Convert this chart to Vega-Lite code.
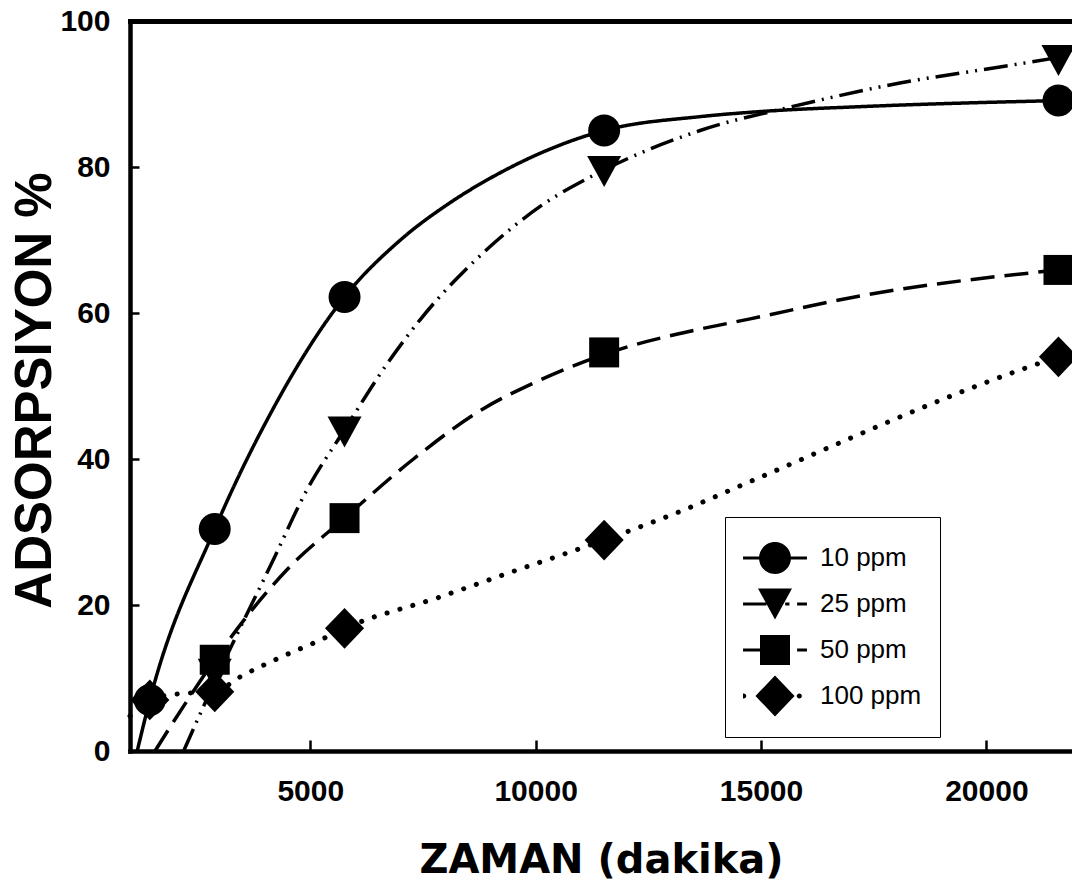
{
  "$schema": "https://vega.github.io/schema/vega-lite/v6.json",
  "width": 942,
  "height": 730,
  "autosize": {"type": "none"},
  "padding": {"left": 130, "top": 21, "right": 0, "bottom": 141},
  "background": "white",
  "config": {"view": {"stroke": null}},
  "datasets": {
    "points": [
      {"seri": "10 ppm", "zaman": 1440, "adsorpsiyon": 7.0},
      {"seri": "10 ppm", "zaman": 2880, "adsorpsiyon": 30.4},
      {"seri": "10 ppm", "zaman": 5760, "adsorpsiyon": 62.2},
      {"seri": "10 ppm", "zaman": 11520, "adsorpsiyon": 85.0},
      {"seri": "10 ppm", "zaman": 21600, "adsorpsiyon": 89.1},
      {"seri": "25 ppm", "zaman": 2880, "adsorpsiyon": 10.5},
      {"seri": "25 ppm", "zaman": 5760, "adsorpsiyon": 43.7},
      {"seri": "25 ppm", "zaman": 11520, "adsorpsiyon": 79.4},
      {"seri": "25 ppm", "zaman": 21600, "adsorpsiyon": 94.6},
      {"seri": "50 ppm", "zaman": 2880, "adsorpsiyon": 12.5},
      {"seri": "50 ppm", "zaman": 5760, "adsorpsiyon": 31.9},
      {"seri": "50 ppm", "zaman": 11520, "adsorpsiyon": 54.6},
      {"seri": "50 ppm", "zaman": 21600, "adsorpsiyon": 65.9},
      {"seri": "100 ppm", "zaman": 1440, "adsorpsiyon": 7.0},
      {"seri": "100 ppm", "zaman": 2880, "adsorpsiyon": 8.1},
      {"seri": "100 ppm", "zaman": 5760, "adsorpsiyon": 16.8},
      {"seri": "100 ppm", "zaman": 11520, "adsorpsiyon": 28.9},
      {"seri": "100 ppm", "zaman": 21600, "adsorpsiyon": 54.0}
    ],
    "curves": [
      {"seri": "10 ppm", "zaman": 1160, "adsorpsiyon": 0},
      {"seri": "10 ppm", "zaman": 1440, "adsorpsiyon": 7.0},
      {"seri": "10 ppm", "zaman": 2880, "adsorpsiyon": 30.4},
      {"seri": "10 ppm", "zaman": 4150, "adsorpsiyon": 46.6},
      {"seri": "10 ppm", "zaman": 5760, "adsorpsiyon": 62.2},
      {"seri": "10 ppm", "zaman": 7000, "adsorpsiyon": 70.0},
      {"seri": "10 ppm", "zaman": 8100, "adsorpsiyon": 75.1},
      {"seri": "10 ppm", "zaman": 9210, "adsorpsiyon": 79.2},
      {"seri": "10 ppm", "zaman": 11520, "adsorpsiyon": 85.0},
      {"seri": "10 ppm", "zaman": 13650, "adsorpsiyon": 86.9},
      {"seri": "10 ppm", "zaman": 15000, "adsorpsiyon": 87.6},
      {"seri": "10 ppm", "zaman": 17340, "adsorpsiyon": 88.3},
      {"seri": "10 ppm", "zaman": 21600, "adsorpsiyon": 89.1},
      {"seri": "25 ppm", "zaman": 2190, "adsorpsiyon": 0},
      {"seri": "25 ppm", "zaman": 2880, "adsorpsiyon": 9.5},
      {"seri": "25 ppm", "zaman": 4180, "adsorpsiyon": 26.2},
      {"seri": "25 ppm", "zaman": 4920, "adsorpsiyon": 35.7},
      {"seri": "25 ppm", "zaman": 5760, "adsorpsiyon": 44.0},
      {"seri": "25 ppm", "zaman": 6700, "adsorpsiyon": 53.0},
      {"seri": "25 ppm", "zaman": 7440, "adsorpsiyon": 59.1},
      {"seri": "25 ppm", "zaman": 8990, "adsorpsiyon": 69.1},
      {"seri": "25 ppm", "zaman": 10100, "adsorpsiyon": 74.6},
      {"seri": "25 ppm", "zaman": 11520, "adsorpsiyon": 79.6},
      {"seri": "25 ppm", "zaman": 13650, "adsorpsiyon": 85.0},
      {"seri": "25 ppm", "zaman": 15710, "adsorpsiyon": 88.3},
      {"seri": "25 ppm", "zaman": 18080, "adsorpsiyon": 91.5},
      {"seri": "25 ppm", "zaman": 20300, "adsorpsiyon": 93.7},
      {"seri": "25 ppm", "zaman": 21600, "adsorpsiyon": 95.0},
      {"seri": "50 ppm", "zaman": 1555, "adsorpsiyon": 0},
      {"seri": "50 ppm", "zaman": 2258, "adsorpsiyon": 6.8},
      {"seri": "50 ppm", "zaman": 2880, "adsorpsiyon": 12.5},
      {"seri": "50 ppm", "zaman": 4477, "adsorpsiyon": 24.8},
      {"seri": "50 ppm", "zaman": 5760, "adsorpsiyon": 31.9},
      {"seri": "50 ppm", "zaman": 7290, "adsorpsiyon": 40.0},
      {"seri": "50 ppm", "zaman": 8840, "adsorpsiyon": 46.9},
      {"seri": "50 ppm", "zaman": 9950, "adsorpsiyon": 50.4},
      {"seri": "50 ppm", "zaman": 12170, "adsorpsiyon": 55.6},
      {"seri": "50 ppm", "zaman": 13280, "adsorpsiyon": 57.3},
      {"seri": "50 ppm", "zaman": 14760, "adsorpsiyon": 59.2},
      {"seri": "50 ppm", "zaman": 17350, "adsorpsiyon": 62.5},
      {"seri": "50 ppm", "zaman": 21600, "adsorpsiyon": 65.9},
      {"seri": "100 ppm", "zaman": 1000, "adsorpsiyon": 4.8},
      {"seri": "100 ppm", "zaman": 1440, "adsorpsiyon": 7.0},
      {"seri": "100 ppm", "zaman": 1900, "adsorpsiyon": 7.7},
      {"seri": "100 ppm", "zaman": 2200, "adsorpsiyon": 7.9},
      {"seri": "100 ppm", "zaman": 2880, "adsorpsiyon": 8.1},
      {"seri": "100 ppm", "zaman": 3400, "adsorpsiyon": 10.0},
      {"seri": "100 ppm", "zaman": 4290, "adsorpsiyon": 12.7},
      {"seri": "100 ppm", "zaman": 5220, "adsorpsiyon": 15.2},
      {"seri": "100 ppm", "zaman": 5760, "adsorpsiyon": 16.8},
      {"seri": "100 ppm", "zaman": 7880, "adsorpsiyon": 21.1},
      {"seri": "100 ppm", "zaman": 9360, "adsorpsiyon": 24.3},
      {"seri": "100 ppm", "zaman": 11520, "adsorpsiyon": 28.9},
      {"seri": "100 ppm", "zaman": 13280, "adsorpsiyon": 33.0},
      {"seri": "100 ppm", "zaman": 14680, "adsorpsiyon": 36.7},
      {"seri": "100 ppm", "zaman": 20750, "adsorpsiyon": 52.2},
      {"seri": "100 ppm", "zaman": 21600, "adsorpsiyon": 54.0}
    ]
  },
  "resolve": {
    "scale": {"shape": "independent"},
    "legend": {"shape": "independent"},
    "axis": {"x": "independent", "y": "independent"}
  },
  "layer": [
    {
      "data": {"name": "curves"},
      "transform": [{"filter": "datum.seri !== '100 ppm'"}],
      "mark": {"type": "line", "interpolate": "monotone", "color": "black", "strokeWidth": 3.5, "strokeCap": "butt"},
      "encoding": {
        "x": {
          "field": "zaman", "type": "quantitative",
          "scale": {"domain": [1000, 21900], "nice": false, "zero": false},
          "axis": {
            "orient": "bottom",
            "values": [5000, 10000, 15000, 20000],
            "format": "d",
            "grid": false,
            "domainColor": "black", "domainWidth": 4.5, "domainCap": "square",
            "ticks": false,
            "labelFont": "Liberation Sans", "labelFontSize": 30, "labelFontWeight": "bold", "labelColor": "black",
            "labelPadding": 25, "labelFlush": false, "labelOverlap": false, "labelBound": false,
            "title": "ZAMAN (dakika)",
            "titleFont": "DejaVu Sans", "titleFontSize": 40, "titleFontWeight": "bold", "titleColor": "black",
            "titleBaseline": "alphabetic", "titleY": 121, "titleX": 471, "titleAlign": "center", "titleAnchor": null
          }
        },
        "y": {
          "field": "adsorpsiyon", "type": "quantitative",
          "scale": {"domain": [0, 100], "nice": false},
          "axis": {
            "orient": "left",
            "values": [0, 20, 40, 60, 80, 100],
            "grid": false,
            "domainColor": "black", "domainWidth": 4.5, "domainCap": "square",
            "ticks": false,
            "labelFont": "Liberation Sans", "labelFontSize": 30, "labelFontWeight": "bold", "labelColor": "black",
            "labelPadding": 20, "labelFlush": false, "labelOverlap": false, "labelBound": false,
            "title": "ADSORPSIYON %",
            "titleFont": "Liberation Sans", "titleFontSize": 51, "titleFontWeight": "bold", "titleColor": "black",
            "titleAngle": 270, "titleBaseline": "alphabetic", "titleAlign": "center", "titleAnchor": null,
            "titleX": -80, "titleY": 369
          }
        },
        "strokeDash": {
          "field": "seri", "type": "nominal",
          "scale": {"domain": ["10 ppm", "25 ppm", "50 ppm"], "range": [[1, 0], [24, 7, 2, 7, 2, 7], [24, 10]]},
          "legend": null
        }
      }
    },
    {
      "data": {"name": "curves"},
      "transform": [{"filter": "datum.seri === '100 ppm'"}],
      "mark": {"type": "line", "interpolate": "monotone", "color": "black", "strokeWidth": 5, "strokeCap": "round", "strokeDash": [0.1, 13.3]},
      "encoding": {
        "x": {
          "field": "zaman", "type": "quantitative",
          "axis": {"orient": "bottom", "offset": -11, "values": [5000, 10000, 15000, 20000], "domain": false, "labels": false, "grid": false, "title": null,
                   "ticks": true, "tickSize": 11, "tickWidth": 2.5, "tickColor": "black"}
        },
        "y": {
          "field": "adsorpsiyon", "type": "quantitative",
          "axis": {"orient": "left", "offset": -9, "values": [20, 40, 60, 80], "domain": false, "labels": false, "grid": false, "title": null,
                   "ticks": true, "tickSize": 9, "tickWidth": 2.5, "tickColor": "black"}
        }
      }
    },
    {
      "data": {"name": "points"},
      "mark": {"type": "point", "filled": true, "color": "black", "opacity": 1, "strokeWidth": 0, "size": 1156},
      "encoding": {
        "x": {"field": "zaman", "type": "quantitative", "axis": null},
        "y": {"field": "adsorpsiyon", "type": "quantitative", "axis": null},
        "shape": {
          "field": "seri", "type": "nominal",
          "scale": {
            "domain": ["10 ppm", "25 ppm", "50 ppm", "100 ppm"],
            "range": [
              "M-0.941,0A0.941,0.941,0,1,1,0.941,0A0.941,0.941,0,1,1,-0.941,0Z",
              "M-1,-0.912L1,-0.912L0,0.912Z",
              "M-0.882,-0.882H0.882V0.882H-0.882Z",
              "M0,-1.2L1.15,0L0,1.2L-1.15,0Z"
            ]
          },
          "legend": null
        }
      }
    },
    {
      "data": {"name": "points"},
      "transform": [{"filter": "false"}],
      "mark": {"type": "point", "filled": true, "color": "black", "opacity": 1, "strokeWidth": 0, "size": 1156},
      "encoding": {
        "x": {
          "field": "zaman", "type": "quantitative",
          "axis": {"orient": "top", "labels": false, "ticks": false, "grid": false, "title": null, "domainColor": "black", "domainWidth": 5, "domainCap": "square"}
        },
        "y": {"field": "adsorpsiyon", "type": "quantitative", "axis": null},
        "shape": {
          "field": "seri", "type": "nominal",
          "scale": {
            "domain": ["10 ppm", "25 ppm", "50 ppm", "100 ppm"],
            "range": [
              "M-0.941,0A0.941,0.941,0,1,1,0.941,0A0.941,0.941,0,1,1,-0.941,0Z M-1.88,-0.09H-0.9V0.09H-1.88Z M0.9,-0.09H1.88V0.09H0.9Z",
              "M-1,-0.912L1,-0.912L0,0.912Z M-1.88,-0.09H-0.5V0.09H-1.88Z M0.6,-0.09H0.85V0.09H0.6Z M1.3,-0.09H1.88V0.09H1.3Z",
              "M-0.882,-0.882H0.882V0.882H-0.882Z M-1.88,-0.09H-0.85V0.09H-1.88Z M1.3,-0.09H1.88V0.09H1.3Z",
              "M0,-1.2L1.15,0L0,1.2L-1.15,0Z M-1.99,0A0.15,0.15,0,1,1,-1.69,0A0.15,0.15,0,1,1,-1.99,0Z M1.28,0A0.15,0.15,0,1,1,1.58,0A0.15,0.15,0,1,1,1.28,0Z"
            ]
          },
          "legend": {
            "orient": "none",
            "legendX": 595,
            "legendY": 496,
            "title": null,
            "padding": 18,
            "strokeColor": "black",
            "fillColor": "white",
            "symbolSize": 1156,
            "symbolFillColor": "black",
            "symbolStrokeWidth": 0,
            "symbolOffset": 15,
            "labelOffset": 28,
            "labelFont": "Liberation Sans",
            "labelFontSize": 26,
            "labelFontWeight": "normal",
            "labelColor": "black",
            "clipHeight": 46,
            "rowPadding": -1
          }
        }
      }
    }
  ]
}
